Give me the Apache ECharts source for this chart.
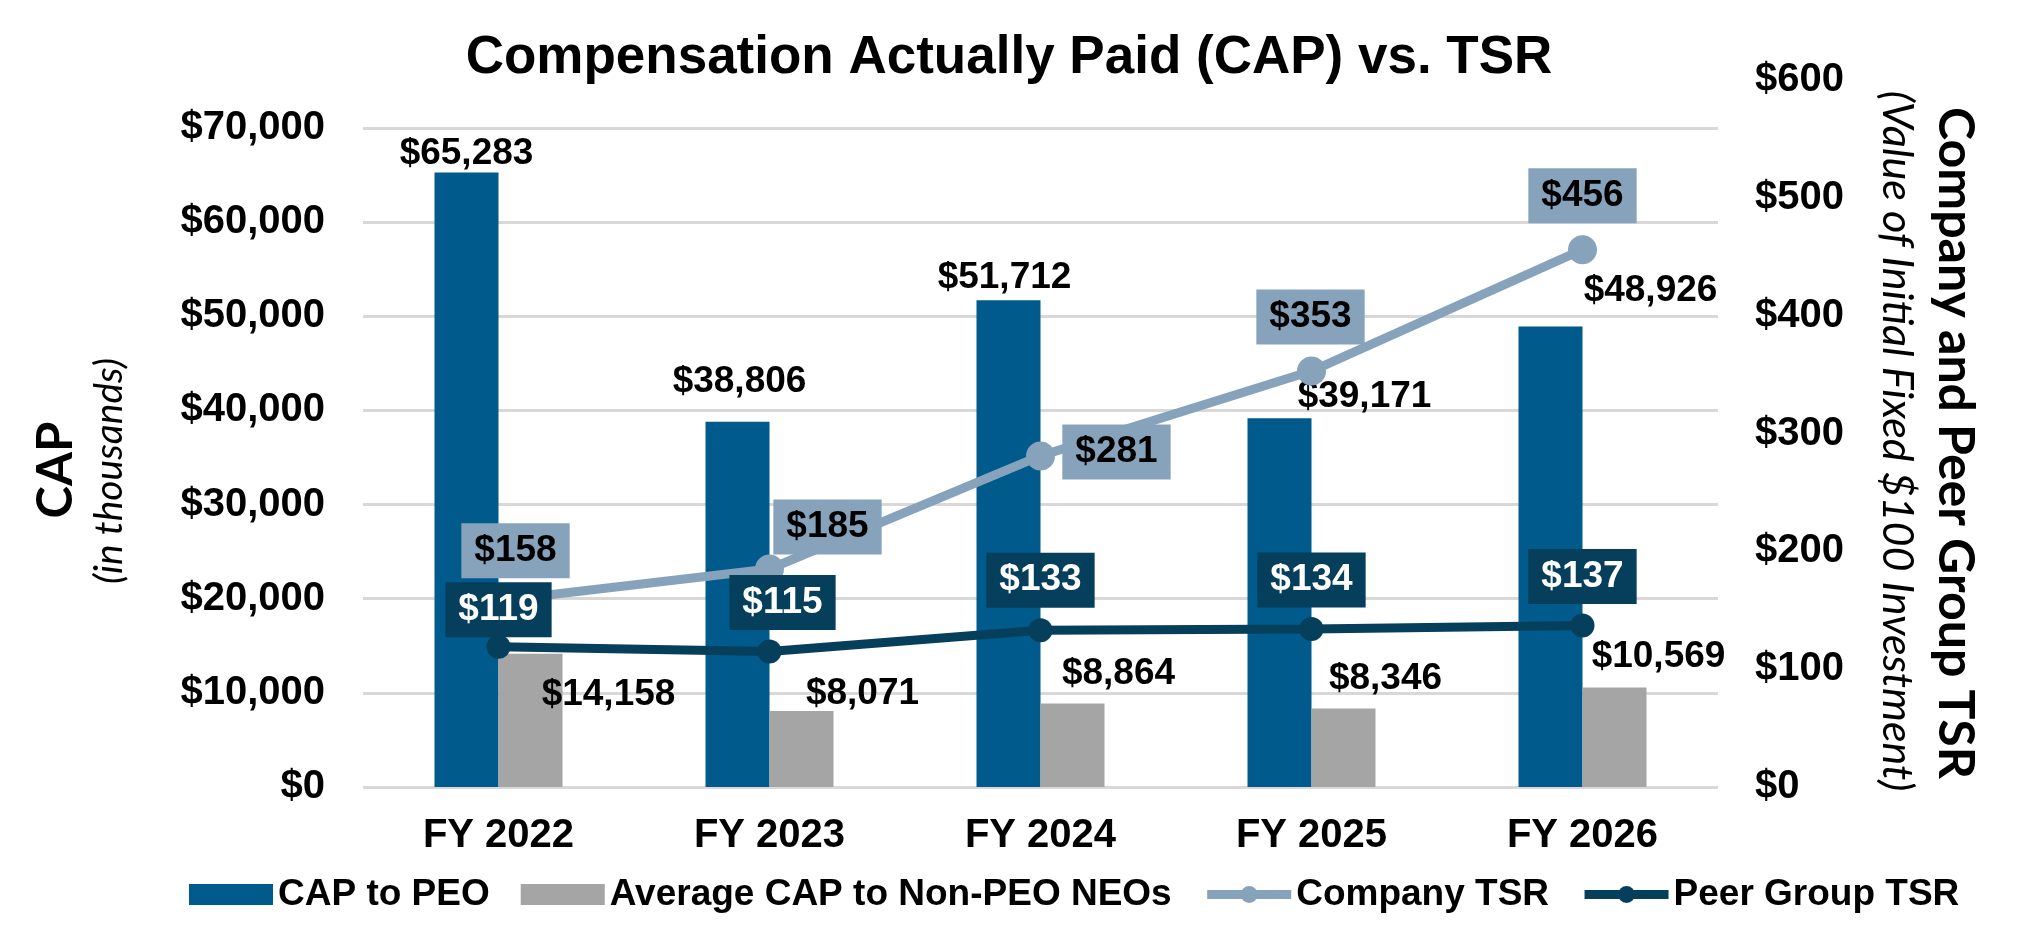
<!DOCTYPE html>
<html><head><meta charset="utf-8">
<script src="https://cdn.jsdelivr.net/npm/echarts@6/dist/echarts.min.js"></script>
<style>html,body{margin:0;padding:0;background:#fff}#c{width:2018px;height:940px}</style>
</head><body><div id="c"></div>
<script>
// ---- data ----
const categories = ['FY 2022', 'FY 2023', 'FY 2024', 'FY 2025', 'FY 2026'];
const capToPEO = [65283, 38806, 51712, 39171, 48926];
const avgCapNonPEO = [14158, 8071, 8864, 8346, 10569];
const companyTSR = [158, 185, 281, 353, 456];
const peerTSR = [119, 115, 133, 134, 137];
const seriesNames = ['CAP to PEO', 'Average CAP to Non-PEO NEOs', 'Company TSR', 'Peer Group TSR'];

// ---- label placement (layout only) ----
const peoLabelOffset = [[0, 0], [2, -21], [-4, -4], [85, -3], [100, -17]];
const avgLabelOffset = [[78, 60], [61, 1], [46, -11], [42, -11], [44, -12]];
const companyLabelOffset = [[17, -50], [58, -42], [76, -4], [-1, -54], [0, -54]];
const peerLabelOffset = [[0, -37], [13, -49], [0, -50], [0, -49], [0, -49]];

const C_PEO = '#005A8B', C_AVG = '#A5A5A5', C_COMP = '#87A3BC', C_PEER = '#063F5C';
const F = '"Liberation Sans", Arial, sans-serif';
const FT = 'Lato, "Open Sans", sans-serif';
const money = v => '$' + Number(v).toLocaleString('en-US');

const chart = echarts.init(document.getElementById('c'), null, {renderer: 'canvas'});
const L = 363, R = 2018 - 1718, B = 940 - 787;

const barLabel = {show: true, position: 'top', distance: 0, color: '#000', fontFamily: F, fontWeight: 'bold', fontSize: 37, lineHeight: 37, formatter: p => money(p.value)};
const boxLabel = (bg, fg) => ({show: true, position: 'inside', color: fg, backgroundColor: bg, padding: [9, 13, 9, 13], fontFamily: F, fontWeight: 'bold', fontSize: 37, lineHeight: 37, formatter: p => money(p.value)});

chart.setOption({
  animation: false,
  backgroundColor: '#fff',
  title: {text: 'Compensation Actually Paid (CAP) vs. TSR', left: 'center', top: 31, padding: 0,
    textStyle: {fontFamily: F, fontWeight: 'bold', fontSize: 53, lineHeight: 54, color: '#000'}},
  legend: {left: 189, top: 876, padding: 0, itemWidth: 84, itemHeight: 21, itemGap: 31,
    data: [
      {name: seriesNames[0], icon: 'rect'},
      {name: seriesNames[1], icon: 'rect'},
      {name: seriesNames[2], lineStyle: {width: 9}},
      {name: seriesNames[3], lineStyle: {width: 9}}
    ],
    textStyle: {fontFamily: F, fontWeight: 'bold', fontSize: 37, lineHeight: 37, color: '#000'}},
  grid: [
    {left: L, right: R, top: 128, bottom: B, containLabel: false},
    {left: L, right: R, top: 80, bottom: B, containLabel: false}
  ],
  xAxis: [
    {type: 'category', gridIndex: 0, data: categories, boundaryGap: true,
      axisLine: {show: false}, axisTick: {show: false},
      axisLabel: {margin: 29, fontFamily: F, fontWeight: 'bold', fontSize: 40, lineHeight: 40, color: '#000'}},
    {type: 'category', gridIndex: 1, data: categories, boundaryGap: true, show: false}
  ],
  yAxis: [
    {type: 'value', gridIndex: 0, min: 0, max: 70000, interval: 10000,
      axisLine: {show: false}, axisTick: {show: false},
      splitLine: {lineStyle: {color: '#D9D7D8', width: 3}},
      axisLabel: {margin: 38, fontFamily: F, fontWeight: 'bold', fontSize: 40, color: '#000', formatter: money}},
    {type: 'value', gridIndex: 1, position: 'right', min: 0, max: 600, interval: 100,
      axisLine: {show: false}, axisTick: {show: false}, splitLine: {show: false},
      axisLabel: {margin: 37, fontFamily: F, fontWeight: 'bold', fontSize: 40, color: '#000', formatter: money}}
  ],
  series: [
    {name: seriesNames[0], type: 'bar', xAxisIndex: 0, yAxisIndex: 0, barWidth: 64, barGap: '0%',
      itemStyle: {color: C_PEO}, label: barLabel, z: 2,
      data: capToPEO.map((v, i) => ({value: v, label: {offset: peoLabelOffset[i]}}))},
    {name: seriesNames[1], type: 'bar', xAxisIndex: 0, yAxisIndex: 0, barWidth: 64, barGap: '0%',
      itemStyle: {color: C_AVG}, label: barLabel, z: 2,
      data: avgCapNonPEO.map((v, i) => ({value: v, label: {offset: avgLabelOffset[i]}}))},
    {name: seriesNames[2], type: 'line', xAxisIndex: 1, yAxisIndex: 1, symbol: 'circle', symbolSize: 29,
      lineStyle: {color: C_COMP, width: 9}, itemStyle: {color: C_COMP}, z: 5,
      label: boxLabel(C_COMP, '#000'),
      data: companyTSR.map((v, i) => ({value: v, label: {offset: companyLabelOffset[i]}}))},
    {name: seriesNames[3], type: 'line', xAxisIndex: 1, yAxisIndex: 1, symbol: 'circle', symbolSize: 24,
      lineStyle: {color: C_PEER, width: 9}, itemStyle: {color: C_PEER}, z: 6,
      label: boxLabel(C_PEER, '#fff'),
      data: peerTSR.map((v, i) => ({value: v, label: {offset: peerLabelOffset[i]}}))}
  ],
  graphic: [
    {type: 'text', x: 56, y: 470, rotation: Math.PI / 2,
      style: {text: 'CAP', textAlign: 'center', textVerticalAlign: 'middle', fill: '#000', font: 'bold 49px ' + FT}},
    {type: 'text', x: 109, y: 471, rotation: Math.PI / 2,
      style: {text: '(in thousands)', textAlign: 'center', textVerticalAlign: 'middle', fill: '#000', font: 'italic 39px ' + FT}},
    {type: 'text', x: 1955, y: 443, rotation: -Math.PI / 2,
      style: {text: 'Company and Peer Group TSR', textAlign: 'center', textVerticalAlign: 'middle', fill: '#000', font: 'bold 50px ' + FT}},
    {type: 'text', x: 1897, y: 441, rotation: -Math.PI / 2,
      style: {text: '(Value of Initial Fixed $100 Investment)', textAlign: 'center', textVerticalAlign: 'middle', fill: '#000', font: 'italic 43px ' + FT}}
  ]
});
</script></body></html>
